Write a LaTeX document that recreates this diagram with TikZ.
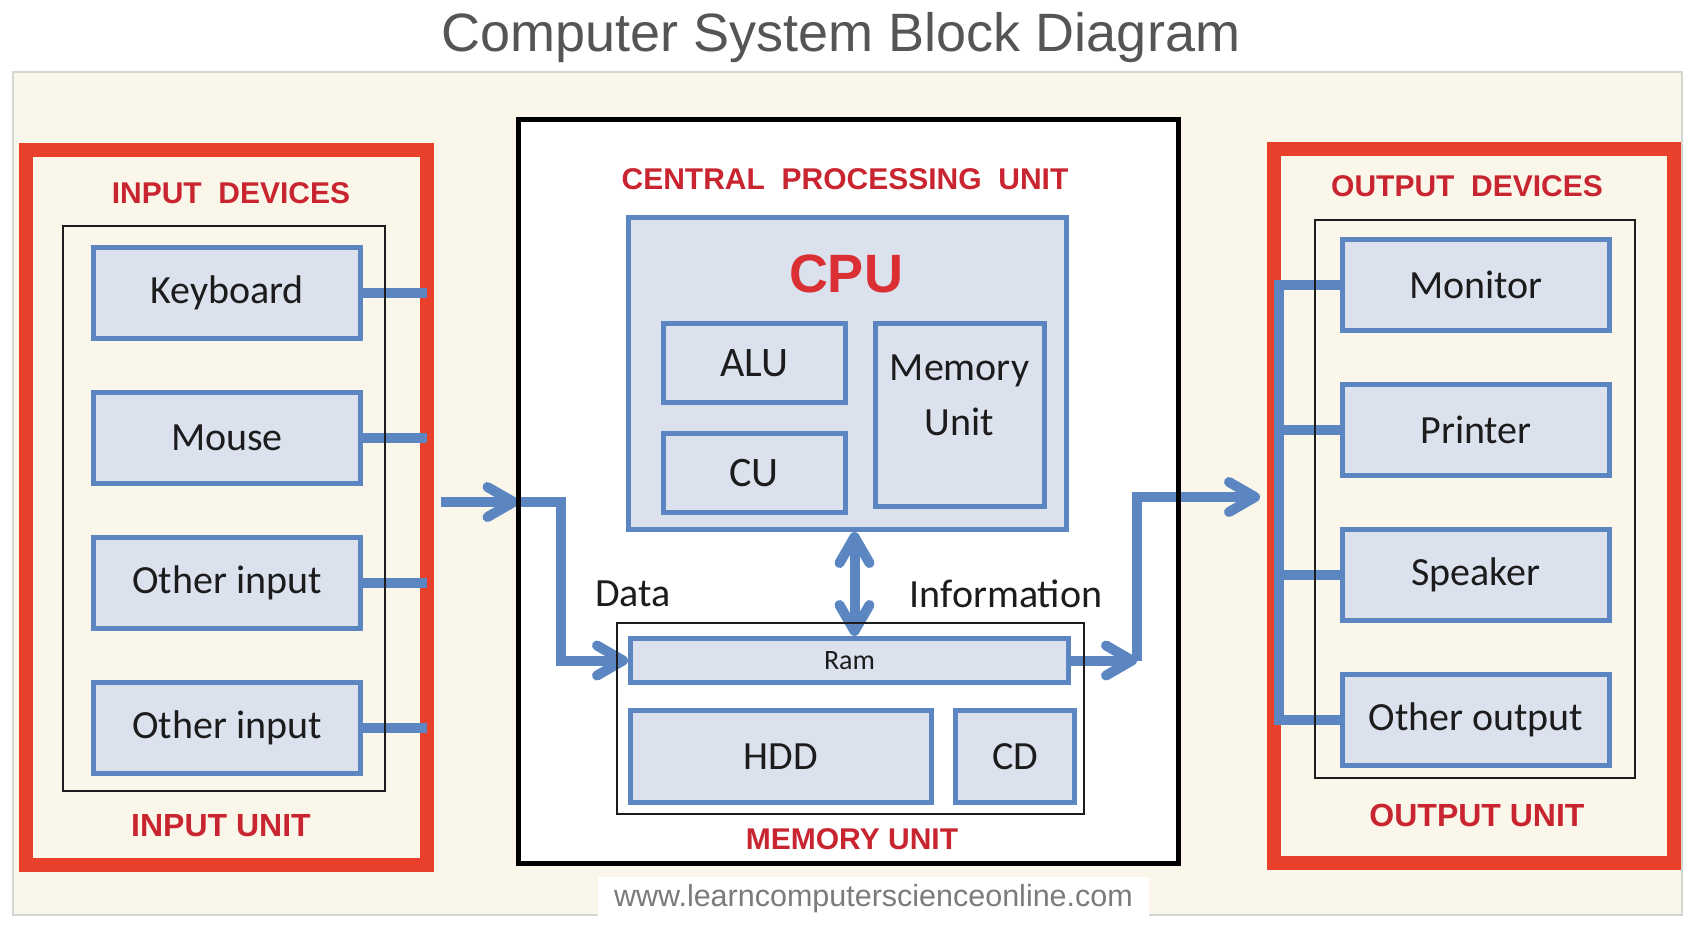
\documentclass[tikz,border=0pt]{standalone}
\usepackage{fontspec}
\setmainfont{Carlito}
\newfontfamily\arialf{Liberation Sans}
\usetikzlibrary{arrows.meta,positioning,calc}
\definecolor{cream}{HTML}{FAF7EA}
\definecolor{edge}{HTML}{D6D6D0}
\definecolor{framered}{HTML}{E8402A}
\definecolor{labelred}{HTML}{C92530}
\definecolor{cpured}{HTML}{DA3034}
\definecolor{boxfill}{HTML}{DBE2EE}
\definecolor{boxline}{HTML}{5B86C2}
\definecolor{ink}{HTML}{1C1C1C}
\definecolor{titlegray}{HTML}{555555}
\definecolor{urlgray}{HTML}{7B7B7B}
\newcommand{\devfont}{\fontsize{20}{27.5}\selectfont}
\newcommand{\hdrfont}{\arialf\bfseries\fontsize{15}{18}\selectfont}
\tikzset{
  >={Straight Barb[length=13pt, width=15pt, line width=5pt, round]},
  panel/.style={rectangle, draw=edge, fill=cream, line width=1pt, inner sep=0pt},
  devbox/.style={rectangle, draw=boxline, fill=boxfill, line width=2.5pt, inner sep=0pt,
                 minimum width=133.5pt, minimum height=45.5pt, font=\devfont, text=ink, align=center},
  cpupart/.style={devbox, minimum width=91pt, minimum height=39.5pt, font=\fontsize{21}{28}\selectfont},
  unitframe/.style={rectangle, draw=framered, line width=7pt, inner sep=0pt},
  thinframe/.style={rectangle, draw=ink, line width=0.75pt, inner sep=0pt, outer sep=0pt},
  hdr/.style={font=\hdrfont, text=labelred, anchor=base, inner sep=0pt},
  unitlbl/.style={hdr, font=\arialf\bfseries\fontsize{16}{19}\selectfont},
  note/.style={font=\devfont, text=ink, inner sep=0pt},
  link/.style={draw=boxline, line width=5pt},
  flow/.style={link, ->}
}
\begin{document}
\begin{tikzpicture}[x=0.5pt, y=-0.5pt]
 \useasboundingbox (0,0) rectangle (1684,926);
 \node[panel, minimum width=834.5pt, minimum height=421.5pt] (bg) at (847.5,493.5) {};
 \node[font=\arialf\fontsize{27}{32}\selectfont, text=titlegray, anchor=base] (title) at (841,51) {Computer System Block Diagram};
 \node[fill=white, minimum width=275.5pt, minimum height=22pt, inner sep=0pt,
       font=\arialf\fontsize{15.25}{18}\selectfont, text=urlgray] (url) at (873.5,899) {www.learncomputerscienceonline.com};
 % input unit
 \node[unitframe, minimum width=200.5pt, minimum height=357.5pt] (inu) at (226.5,507.5) {};
 \node[hdr] (inhd) at (231,203) {INPUT~~DEVICES};
 \node[devbox] (kb) at (227,293) {Keyboard};
 \node[devbox, below=24.5pt of kb] (mouse) {Mouse};
 \node[devbox, below=24.5pt of mouse] (oin1) {Other input};
 \node[devbox, below=24.5pt of oin1] (oin2) {Other input};
 \node[unitlbl] (inlb) at (221,836) {INPUT UNIT};
 % central processing unit
 \node[draw=black, fill=white, line width=2.5pt, inner sep=0pt, outer sep=0pt, minimum width=330pt, minimum height=372pt] (cpuu) at (848.5,491.5) {};
 \node[hdr] (cpuhd) at (845,189) {CENTRAL~~PROCESSING~~UNIT};
 \node[devbox, minimum width=219pt, minimum height=156pt] (cpu) at (847.5,373.5) {};
 \node[font=\arialf\bfseries\fontsize{27}{32}\selectfont, text=cpured, anchor=base] (cpulb) at (846,292) {CPU};
 \node[cpupart] (alu) at (754,363) {ALU};
 \node[cpupart, below=13pt of alu] (cu) {CU};
 \node[cpupart, minimum width=84.5pt, minimum height=91.5pt, anchor=north west] (memu) at ([xshift=12.5pt]alu.north east) {};
 \node[note, align=center] (memtx) at ($(memu.center)+(0,10pt)$) {Memory\\Unit};
 % memory unit
 \node[thinframe, minimum width=233.5pt, minimum height=95.5pt] (memf) at (850.5,718.5) {};
 \node[devbox, minimum width=219pt, minimum height=22pt, font=\fontsize{14}{16}\selectfont] (ram) at (849.5,660.5) {Ram};
 \node[devbox, minimum width=150.5pt, minimum height=46pt, below=11.5pt of ram.south west, anchor=north west] (hdd) {HDD};
 \node[devbox, minimum width=59.5pt, minimum height=46pt, right=9.5pt of hdd] (cd) {CD};
 \node[hdr] (memlb) at (852,849) {MEMORY UNIT};
 \node[note, anchor=base] (data) at (633,606) {Data};
 \node[note, anchor=base] (info) at (1006,607) {Information};
 % output unit
 \node[unitframe, minimum width=200pt, minimum height=357pt] (outu) at (1474,506) {};
 \node[hdr] (outhd) at (1467,196) {OUTPUT~~DEVICES};
 \node[devbox] (mon) at (1476,285) {Monitor};
 \node[devbox, below=24.5pt of mon] (prn) {Printer};
 \node[devbox, below=24.5pt of prn] (spk) {Speaker};
 \node[devbox, below=24.5pt of spk] (oout) {Other output};
 \node[unitlbl] (outlb) at (1477,826) {OUTPUT UNIT};
 % connectors
 \foreach \d in {kb,mouse,oin1,oin2}
   \draw[link] (\d.east) -- ($(\d.east -| inu.east)+(-3.5pt,0)$);
 \coordinate (obus) at ($(outu.west)+(6pt,0)$);
 \draw[link] (mon.west) -- (mon.west -| obus) -- (oout.west -| obus) -- (oout.west);
 \foreach \d in {prn,spk}
   \draw[link] (\d.west) -- (\d.west -| obus);
 \coordinate (inarrow) at ($(inu.east)+(3.5pt,2.75pt)$);
 \draw[flow] (inarrow) -- (inarrow -| cpuu.west) coordinate (inj);
 \draw[flow] (inj) -- ++(21pt,0) |- (ram.west);
 \draw[flow] (ram.east) -- ++(33pt,0) coordinate (outj);
 \coordinate (outarrow) at ($(outu.west)+(-3.5pt,4.5pt)$);
 \draw[flow] (outj) |- (outarrow);
 \coordinate (cpuport) at ($(cpu.south)+(3.5pt,0)$);
 \draw[link, <->] (cpuport) -- (cpuport |- ram.north);
 % frame lines over the links
 \node[thinframe, minimum width=161pt, minimum height=282.5pt] (inf) at (224,508.5) {};
 \node[thinframe, minimum width=160pt, minimum height=279pt] (outf) at (1475,499) {};
 \draw[line width=2.5pt] (cpuu.north west) rectangle (cpuu.south east);
 \draw[thinframe] (memf.north west) rectangle (memf.south east);
\end{tikzpicture}
\end{document}
